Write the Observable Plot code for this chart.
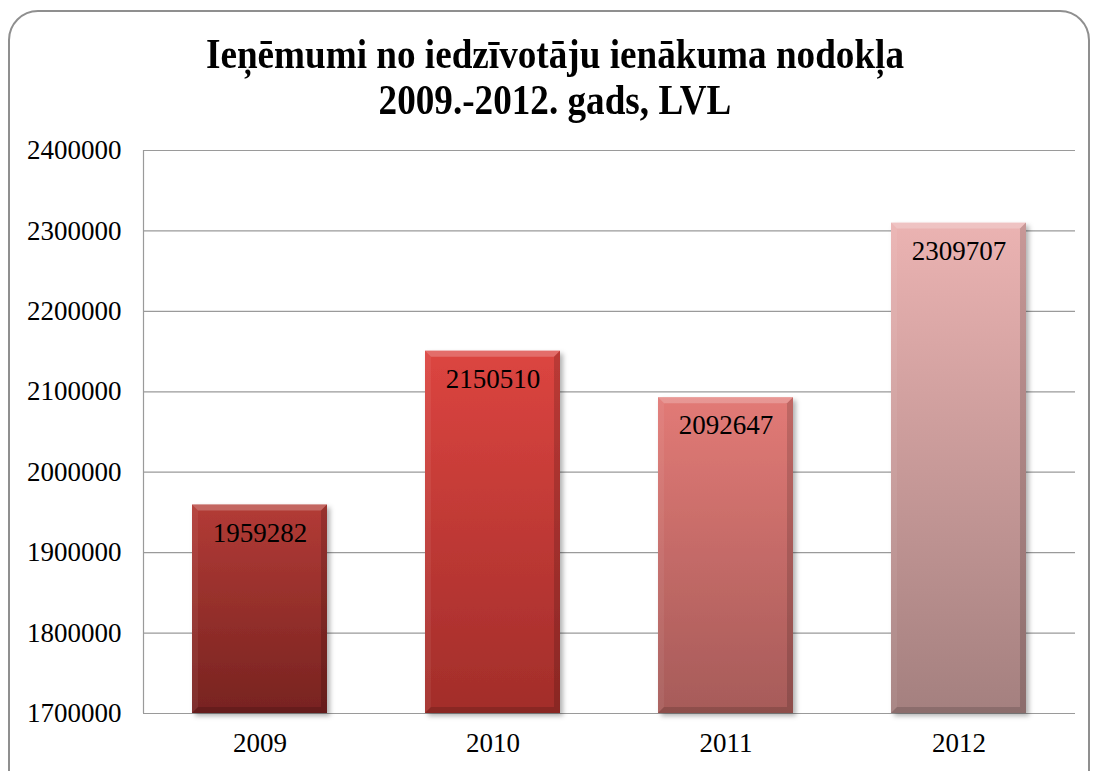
<!DOCTYPE html>
<html>
<head>
<meta charset="utf-8">
<script src="https://cdn.jsdelivr.net/npm/d3@7"></script>
<script src="https://cdn.jsdelivr.net/npm/@observablehq/plot@0.6"></script>
<style>
  html, body { margin: 0; padding: 0; background: #fff; }
  #wrap { position: relative; width: 1094px; height: 771px; overflow: hidden; }
  #frame { position: absolute; left: 8px; top: 10px; width: 1082px; height: 790px;
           border: 2px solid #8f8f8f; border-radius: 30px; box-sizing: border-box; }
  #title { position: absolute; left: 0; top: 0; width: 1110px; height: 130px;
           font-family: "Liberation Serif", "Times New Roman", serif; font-weight: bold;
           font-size: 42px; line-height: 46px; text-align: center; color: #000;
           padding-top: 31px; box-sizing: border-box; transform: scaleX(0.885); transform-origin: 555px 0; }
  #chart { position: absolute; left: 0; top: 130px; }
</style>
</head>
<body>
<div id="wrap">
  <div id="frame"></div>
  <div id="title">Ieņēmumi no iedzīvotāju ienākuma nodokļa<br>2009.-2012. gads, LVL</div>
  <div id="chart"></div>
</div>
<script>
const years = ["2009", "2010", "2011", "2012"];
const values = [1959282, 2150510, 2092647, 2309707];
const yTicks = [1700000, 1800000, 1900000, 2000000, 2100000, 2200000, 2300000, 2400000];
const gradTop = ["#b33b36", "#dc4540", "#e27a76", "#ebb3b2"];
const gradBottom = ["#772320", "#a22d2a", "#a65b59", "#a4807f"];

const data = years.map((y, i) => ({year: y, value: values[i], fill: `url(#g${i})`}));
const ns = "http://www.w3.org/2000/svg";

const defs = () => {
  const d = document.createElementNS(ns, "defs");
  let html = "";
  gradTop.forEach((c, i) => {
    html += `<linearGradient id="g${i}" x1="0" y1="0" x2="0" y2="1">
      <stop offset="0" stop-color="${c}"/>
      <stop offset="1" stop-color="${gradBottom[i]}"/>
    </linearGradient>`;
  });
  html += `<filter id="shadow" x="-10%" y="-10%" width="125%" height="125%">
      <feDropShadow dx="3" dy="3" stdDeviation="2.5" flood-color="#000" flood-opacity="0.3"/>
    </filter>`;
  d.innerHTML = html;
  return d;
};

// left axis line at the plot's left edge
const axisLine = (index, scales, channels, dims) => {
  const l = document.createElementNS(ns, "line");
  l.setAttribute("x1", dims.marginLeft + 0.5);
  l.setAttribute("x2", dims.marginLeft + 0.5);
  l.setAttribute("y1", dims.marginTop);
  l.setAttribute("y2", dims.height - dims.marginBottom);
  l.setAttribute("stroke", "#9a9a9a");
  l.setAttribute("stroke-width", 1.2);
  return l;
};

// bevel edges on each bar, positioned via Plot's scales
const bevel = (index, {x, y}) => {
  const g = document.createElementNS(ns, "g");
  const b = 6;
  data.forEach(d => {
    const x0 = x(d.year), x1 = x0 + x.bandwidth();
    const y0 = y(d.value), y1 = y(1700000);
    const polys = [
      [[x0, y0], [x1, y0], [x1 - b, y0 + b], [x0 + b, y0 + b], "#fff", 0.22],
      [[x0, y0], [x0 + b, y0 + b], [x0 + b, y1 - b], [x0, y1], "#fff", 0.06],
      [[x1, y0], [x1, y1], [x1 - b, y1 - b], [x1 - b, y0 + b], "#000", 0.15],
      [[x0, y1], [x0 + b, y1 - b], [x1 - b, y1 - b], [x1, y1], "#000", 0.15]
    ];
    polys.forEach(p => {
      const el = document.createElementNS(ns, "polygon");
      el.setAttribute("points", p.slice(0, 4).map(q => q.join(",")).join(" "));
      el.setAttribute("fill", p[4]);
      el.setAttribute("fill-opacity", p[5]);
      g.appendChild(el);
    });
  });
  return g;
};

const chart = Plot.plot({
  width: 1094,
  height: 641,
  marginLeft: 143,
  marginRight: 19,
  marginTop: 20,
  marginBottom: 58,
  style: {fontFamily: "'Liberation Serif', 'Times New Roman', serif", fontSize: "27px", color: "#000", background: "transparent"},
  x: {domain: years, paddingInner: 0.42, paddingOuter: 0.21, label: null, tickSize: 0, tickPadding: 19},
  y: {domain: [1700000, 2400000], ticks: yTicks, tickFormat: d => String(d), label: null, tickSize: 0, tickPadding: 22},
  color: {type: "identity"},
  marks: [
    defs,
    Plot.gridY(yTicks, {stroke: "#9a9a9a", strokeOpacity: 1, strokeWidth: 1.2}),
    axisLine,
    Plot.barY(data, {x: "year", y: "value", y1: 1700000, fill: "fill"}),
    bevel,
    Plot.text(data, {x: "year", y: "value", text: d => String(d.value), dy: 28, fill: "#000", fontSize: 27})
  ]
});
const barG = chart.querySelector('g[aria-label="bar"]');
if (barG) barG.setAttribute("filter", "url(#shadow)");
document.getElementById("chart").appendChild(chart);
</script>
</body>
</html>
